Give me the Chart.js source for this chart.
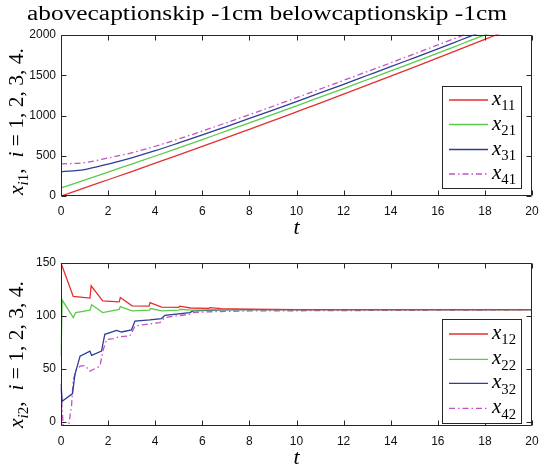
<!DOCTYPE html>
<html><head><meta charset="utf-8">
<script src="https://cdn.jsdelivr.net/npm/chart.js@4"></script>
<style>
html,body{margin:0;padding:0;background:#fff;}
#wrap{position:relative;width:539px;height:471px;overflow:hidden;background:#fff;}
canvas{position:absolute;left:0;}
</style></head>
<body>
<div id="wrap">
<canvas id="c1" width="539" height="235" style="top:0px"></canvas>
<canvas id="c2" width="539" height="236" style="top:235px"></canvas>
</div>
<script>
// ---------------- data ----------------
const titleText = 'abovecaptionskip -1cm belowcaptionskip -1cm';
const xTicks = [0,2,4,6,8,10,12,14,16,18,20];
const yTicksTop = [0,500,1000,1500,2000];
const yTicksBottom = [0,50,100,150];

// top subplot (x_{i1})
const tTop = [0,1,2,3,4,5,6,7,8,9,10,11,12,13,14,15,16,17,18,19,20];
const x11 = [0,100,202,304,407,511,616,722,829,936,1045,1154,1265,1376,1488,1601,1715,1830,1946,2062,2180];
const x21 = [100,198,297,397,497,599,701,805,909,1014,1120,1227,1335,1444,1553,1664,1775,1888,2001,2115,2230];
const x31 = [300,328,397,475,563,659,758,860,963,1067,1173,1280,1388,1497,1606,1717,1828,1941,2054,2168,2283];
const x41 = [400,414,472,537,618,709,806,908,1011,1115,1221,1328,1436,1545,1654,1765,1876,1989,2102,2216,2331];

// bottom subplot (x_{i2})
const tX12 = [0,0.52,1.23,1.28,1.77,2.47,2.52,3.02,3.74,3.78,4.27,5.0,5.04,5.5,6.28,6.32,6.8,8,10,20];
const x12  = [150,118.4,116.8,128.5,114.2,113.3,117.4,109.5,109.3,112.5,108.3,108.0,109.2,107.5,107.2,107.8,106.8,106.3,106,106];
const tX22 = [0,0.05,0.52,0.62,1.23,1.3,1.77,2.47,2.52,3.02,3.76,3.8,4.27,5.0,5.05,5.5,6.3,7,8,20];
const x22  = [62,115,98.4,103.2,105.4,110.5,103.2,106.2,108.8,104.7,105.5,107,104.8,105.4,106.3,105.5,105.8,106,106,106];
const tX32 = [0,0.05,0.49,0.59,0.81,1.23,1.3,1.72,1.86,2.36,2.57,2.99,3.14,3.77,4.27,4.41,5.47,5.61,6.88,8,20];
const x32  = [36,19.3,26.6,44.6,62,66.8,62.7,66.8,82.6,86.4,84.8,86.7,95.2,96.2,97.5,100.6,103.2,104.7,105.7,106,106];
const tX42 = [0,0.05,0.1,0.31,0.45,0.52,0.66,0.81,1.02,1.23,1.37,1.65,1.8,1.94,2.22,2.5,2.92,3.07,3.14,3.63,4.2,4.41,4.9,5.47,5.61,6.17,8,20];
const x42  = [32,11.4,-6,-6,15.8,39.9,49.4,52.5,53.2,47.8,49.4,52.5,68.4,77.8,78.5,80.4,81,87.3,90.5,92.1,93.7,98.5,100,101.6,103.2,103.8,104.7,105.8];

// ---------------- styles ----------------
const COLORS = ['#e3302f','#5ccb4b','#2c3e98','#c253c2'];
const DASHES = [[],[],[],[6,3,1.5,3]];
const AX = '#262626';
const SERIF = '"Liberation Serif", "DejaVu Serif", serif';
const SANS = '"Liberation Sans", Arial, sans-serif';

function pts(t, y){ return t.map((v,i)=>({x:v, y:y[i]})); }
function ds(t, y, k, smooth){
  return {data: pts(t,y), borderColor: COLORS[k], borderWidth: 1.3, borderDash: DASHES[k],
          pointRadius: 0, tension: smooth ? 0.35 : 0, cubicInterpolationMode: smooth ? 'monotone' : 'default',
          fill: false, clip: 0.5};
}

function mathWidth(ctx, segs, size){
  let w = 0;
  for (const s of segs){
    const fs = s.sub ? size*0.7 : size;
    ctx.font = (s.it ? 'italic ' : '') + fs + 'px ' + SERIF;
    w += ctx.measureText(s.t).width;
  }
  return w;
}
function drawMath(ctx, x, y, segs, size, align){
  const w = mathWidth(ctx, segs, size);
  let cx = align === 'center' ? x - w/2 : x;
  ctx.textBaseline = 'alphabetic';
  ctx.textAlign = 'left';
  for (const s of segs){
    const fs = s.sub ? size*0.7 : size;
    ctx.font = (s.it ? 'italic ' : '') + fs + 'px ' + SERIF;
    ctx.fillText(s.t, cx, y + (s.sub ? size*0.25 : 0));
    cx += ctx.measureText(s.t).width;
  }
}

const framePlugin = {
  id: 'frame',
  afterDraw(chart, args, o){
    const ctx = chart.ctx;
    const {left, right, top, bottom} = chart.chartArea;
    const xs = chart.scales.x, ys = chart.scales.y;
    ctx.save();
    ctx.strokeStyle = AX; ctx.lineWidth = 1;
    const L = Math.round(left)+0.5, R = Math.round(right)-0.5, T = Math.round(top)+0.5, B = Math.round(bottom)-0.5;
    ctx.beginPath();
    ctx.rect(L, T, R-L, B-T);
    for (const tk of xs.ticks){
      const p = Math.round(xs.getPixelForValue(tk.value))+0.5;
      ctx.moveTo(p, B); ctx.lineTo(p, B-5);
      ctx.moveTo(p, T); ctx.lineTo(p, T+5);
    }
    for (const tk of ys.ticks){
      const p = Math.round(ys.getPixelForValue(tk.value))+0.5;
      ctx.moveTo(L, p); ctx.lineTo(L+5, p);
      ctx.moveTo(R, p); ctx.lineTo(R-5, p);
    }
    ctx.stroke();

    // legend
    const lg = o.legend;
    ctx.fillStyle = '#fff';
    ctx.fillRect(lg.box[0], lg.box[1], lg.box[2]-lg.box[0], lg.box[3]-lg.box[1]);
    ctx.strokeStyle = AX;
    ctx.strokeRect(lg.box[0]+0.5, lg.box[1]+0.5, lg.box[2]-lg.box[0], lg.box[3]-lg.box[1]);
    lg.rows.forEach((r, k) => {
      const d = chart.data.datasets[k];
      ctx.strokeStyle = d.borderColor; ctx.lineWidth = 1.3;
      ctx.setLineDash(d.borderDash || []);
      ctx.beginPath(); ctx.moveTo(449, r.y); ctx.lineTo(488, r.y); ctx.stroke();
      ctx.setLineDash([]);
      ctx.fillStyle = '#000';
      drawMath(ctx, 492, r.y + 5, r.label, 21, 'left');
    });

    // y label (rotated)
    ctx.fillStyle = '#000';
    ctx.save();
    ctx.translate(23, (top+bottom)/2 + o.ylabelShift);
    ctx.rotate(-Math.PI/2);
    drawMath(ctx, 0, 0, o.ylabel, 21.5, 'center');
    ctx.restore();

    // x label
    drawMath(ctx, (left+right)/2, o.xlabelY, [{t:'t', it:true}], 22, 'center');

    // title
    if (o.title){
      ctx.font = '20.5px ' + SERIF;
      const w = ctx.measureText(o.title).width;
      ctx.save();
      ctx.translate(267, 20);
      ctx.scale(480/w, 1);
      ctx.textAlign = 'center'; ctx.textBaseline = 'alphabetic';
      ctx.fillStyle = '#000';
      ctx.fillText(o.title, 0, 0);
      ctx.restore();
    }
    ctx.restore();
  }
};

function makeChart(id, datasets, yMin, yMax, yTicks, padTop, xAxisH, frameOpts){
  return new Chart(document.getElementById(id), {
    type: 'line',
    data: {datasets},
    options: {
      responsive: false, animation: false, devicePixelRatio: 1,
      layout: {padding: {left: 0, right: 7, top: padTop, bottom: 0}},
      plugins: {legend: {display: false}, tooltip: {enabled: false}, frame: frameOpts},
      scales: {
        x: {type: 'linear', min: 0, max: 20,
            afterBuildTicks: s => { s.ticks = xTicks.map(v => ({value: v})); },
            afterFit: s => { s.height = xAxisH; s.paddingLeft = 0; s.paddingRight = 0; },
            grid: {display: false, drawTicks: false}, border: {display: false},
            ticks: {color: '#111', font: {family: SANS, size: 12}, padding: 8, maxRotation: 0, autoSkip: false,
                    callback: v => String(v)}},
        y: {min: yMin, max: yMax,
            afterBuildTicks: s => { s.ticks = yTicks.map(v => ({value: v})); },
            afterFit: s => { s.width = 61; s.paddingTop = 0; s.paddingBottom = 0; },
            grid: {display: false, drawTicks: false}, border: {display: false},
            ticks: {color: '#111', font: {family: SANS, size: 12}, padding: 5, callback: v => String(v)}}
      }
    },
    plugins: [framePlugin]
  });
}

makeChart('c1', [ds(tTop,x11,0,true), ds(tTop,x21,1,true), ds(tTop,x31,2,true), ds(tTop,x41,3,true)],
  0, 2000, yTicksTop, 35, 39, {
    title: titleText,
    xlabelY: 234,
    ylabelShift: 6,
    ylabel: [{t:'x',it:true},{t:'i',it:true,sub:true},{t:'1',sub:true},{t:',  '},{t:'i',it:true},{t:' = 1, 2, 3, 4.'}],
    legend: {box:[442,86,521,188], rows:[
      {y:100, label:[{t:'x',it:true},{t:'11',sub:true}]},
      {y:124.5, label:[{t:'x',it:true},{t:'21',sub:true}]},
      {y:149.5, label:[{t:'x',it:true},{t:'31',sub:true}]},
      {y:174, label:[{t:'x',it:true},{t:'41',sub:true}]}]}
  });

makeChart('c2', [ds(tX12,x12,0,false), ds(tX22,x22,1,false), ds(tX32,x32,2,false), ds(tX42,x42,3,false)],
  -4, 150, yTicksBottom, 28, 45, {
    xlabelY: 229,
    ylabelShift: 10,
    ylabel: [{t:'x',it:true},{t:'i',it:true,sub:true},{t:'2',sub:true},{t:',  '},{t:'i',it:true},{t:' = 1, 2, 3, 4.'}],
    legend: {box:[442,84,521,188], rows:[
      {y:99, label:[{t:'x',it:true},{t:'12',sub:true}]},
      {y:124.3, label:[{t:'x',it:true},{t:'22',sub:true}]},
      {y:148.3, label:[{t:'x',it:true},{t:'32',sub:true}]},
      {y:173.3, label:[{t:'x',it:true},{t:'42',sub:true}]}]}
  });
</script>
</body></html>
